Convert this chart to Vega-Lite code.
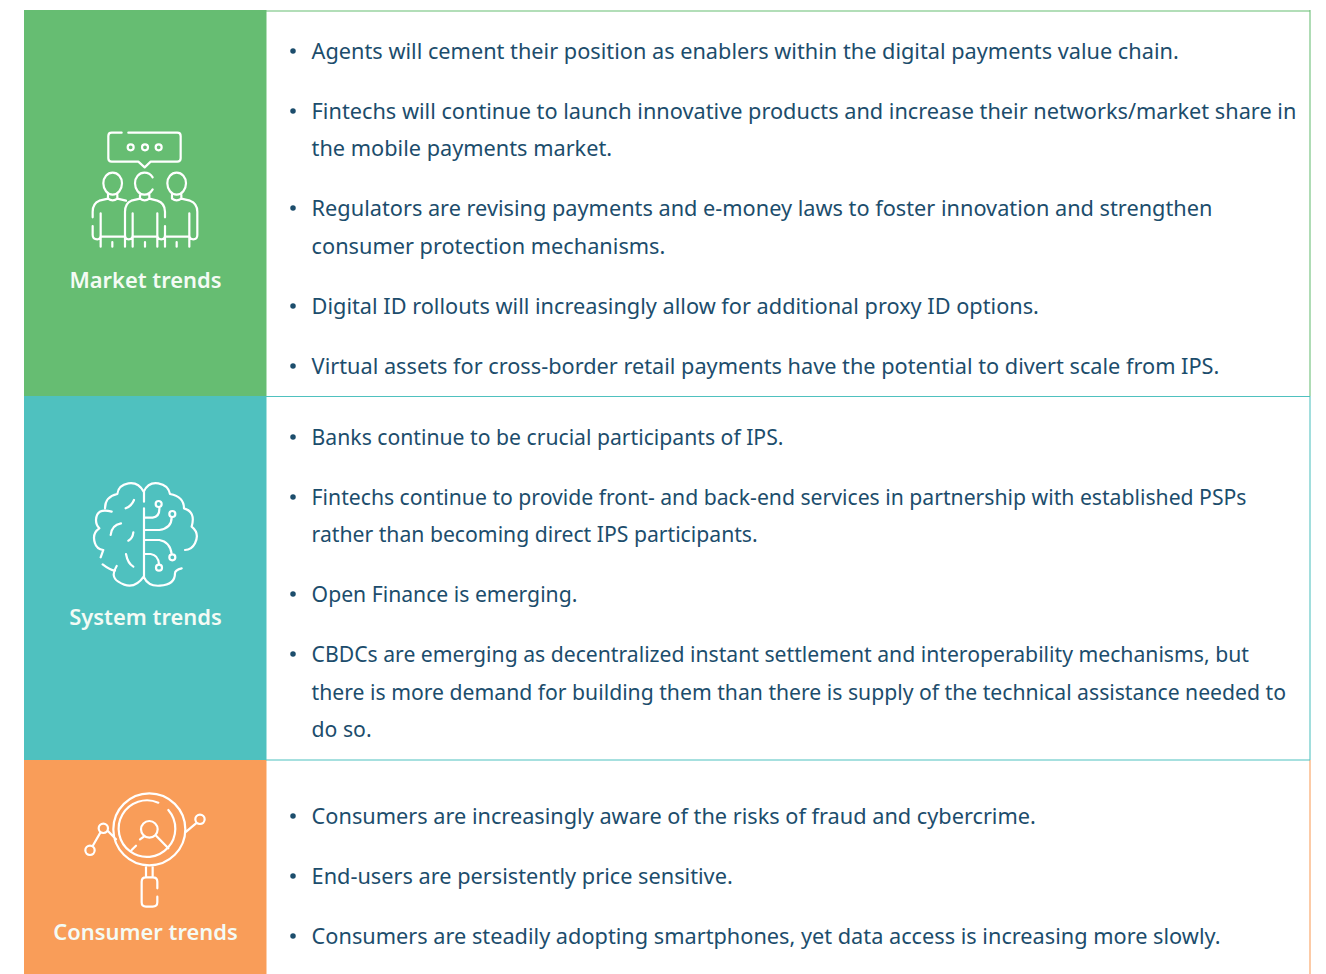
{"$schema":"https://vega.github.io/schema/vega-lite/v6.json","width":1326,"height":974,"autosize":{"type":"none"},"padding":0,"background":"#ffffff","config":{"view":{"stroke":null}},
"datasets":{
"bands":[{"band":"Market trends","top":10,"bottom":396,"labelY":287.5},{"band":"System trends","top":396,"bottom":760,"labelY":625},{"band":"Consumer trends","top":760,"bottom":974,"labelY":939.5}],
"edges":[{"band":"Market trends","y":11},{"band":"System trends","y":396.5},{"band":"System trends","y":760}],
"icons":[{"band":"Market trends","ox":60,"oy":120},{"band":"System trends","ox":60,"oy":470},{"band":"Consumer trends","ox":40,"oy":780}],
"lines":[
{"band":"Market trends","y":59,"bullet":true,"line":"Agents will cement their position as enablers within the digital payments value chain."},
{"band":"Market trends","y":119,"bullet":true,"line":"Fintechs will continue to launch innovative products and increase their networks/market share in"},
{"band":"Market trends","y":156,"bullet":false,"line":"the mobile payments market."},
{"band":"Market trends","y":216,"bullet":true,"line":"Regulators are revising payments and e-money laws to foster innovation and strengthen"},
{"band":"Market trends","y":254,"bullet":false,"line":"consumer protection mechanisms."},
{"band":"Market trends","y":314,"bullet":true,"line":"Digital ID rollouts will increasingly allow for additional proxy ID options."},
{"band":"Market trends","y":374,"bullet":true,"line":"Virtual assets for cross-border retail payments have the potential to divert scale from IPS."},
{"band":"System trends","y":445,"bullet":true,"line":"Banks continue to be crucial participants of IPS."},
{"band":"System trends","y":505,"bullet":true,"line":"Fintechs continue to provide front- and back-end services in partnership with established PSPs"},
{"band":"System trends","y":542,"bullet":false,"line":"rather than becoming direct IPS participants."},
{"band":"System trends","y":602,"bullet":true,"line":"Open Finance is emerging."},
{"band":"System trends","y":662,"bullet":true,"line":"CBDCs are emerging as decentralized instant settlement and interoperability mechanisms, but"},
{"band":"System trends","y":700,"bullet":false,"line":"there is more demand for building them than there is supply of the technical assistance needed to"},
{"band":"System trends","y":737,"bullet":false,"line":"do so."},
{"band":"Consumer trends","y":824,"bullet":true,"line":"Consumers are increasingly aware of the risks of fraud and cybercrime."},
{"band":"Consumer trends","y":884,"bullet":true,"line":"End-users are persistently price sensitive."},
{"band":"Consumer trends","y":944,"bullet":true,"line":"Consumers are steadily adopting smartphones, yet data access is increasing more slowly."}
]},
"layer":[
{"data":{"name":"bands"},"mark":{"type":"rect"},"encoding":{"x":{"datum":24,"type":"quantitative","scale":{"domain":[0,1326],"nice":false,"zero":false},"axis":null},"x2":{"datum":266.5},"y":{"field":"top","type":"quantitative","scale":{"domain":[974,0],"nice":false,"zero":false},"axis":null},"y2":{"field":"bottom"},"color":{"field":"band","type":"nominal","legend":null,"scale":{"domain":["Market trends","System trends","Consumer trends"],"range":["#66bd72","#4fc1bf","#f99d59"]}}}},
{"data":{"name":"bands"},"mark":{"type":"rule","strokeWidth":1.5,"opacity":0.7},"encoding":{"x":{"datum":1310,"type":"quantitative"},"y":{"field":"top","type":"quantitative"},"y2":{"field":"bottom"},"color":{"field":"band","type":"nominal"}}},
{"data":{"name":"edges"},"mark":{"type":"rule","strokeWidth":1.2},"encoding":{"x":{"datum":266,"type":"quantitative"},"x2":{"datum":1310},"y":{"field":"y","type":"quantitative"},"color":{"field":"band","type":"nominal"}}},
{"data":{"name":"bands"},"mark":{"type":"text","font":"Noto Sans","fontSize":21.9,"fontWeight":600,"align":"center","baseline":"alphabetic","color":"#f4fbf5"},"encoding":{"x":{"datum":145.5,"type":"quantitative"},"y":{"field":"labelY","type":"quantitative"},"text":{"field":"band"}}},
{"data":{"name":"lines"},"transform":[{"filter":"datum.band!=='System trends'"}],"mark":{"type":"text","font":"Noto Sans","fontSize":21.72,"align":"left","baseline":"alphabetic","color":"#1c4d6c"},"encoding":{"x":{"datum":311.6,"type":"quantitative"},"y":{"field":"y","type":"quantitative"},"text":{"field":"line"}}},
{"data":{"name":"lines"},"transform":[{"filter":"datum.band==='System trends'"}],"mark":{"type":"text","font":"Noto Sans","fontSize":21.18,"align":"left","baseline":"alphabetic","color":"#1c4d6c"},"encoding":{"x":{"datum":311.6,"type":"quantitative"},"y":{"field":"y","type":"quantitative"},"text":{"field":"line"}}},
{"data":{"name":"lines"},"transform":[{"filter":"datum.bullet"}],"mark":{"type":"point","shape":"circle","filled":true,"size":30,"color":"#1c4d6c","opacity":1},"encoding":{"x":{"datum":293,"type":"quantitative"},"y":{"field":"y","type":"quantitative"},"yOffset":{"value":-8}}},
{"data":{"name":"icons"},"transform":[{"filter":"datum.band==='Market trends'"}],"mark":{"type":"point","size":0.4444,"filled":false,"opacity":1,"stroke":"#ffffff","strokeWidth":2.2,"strokeCap":"round","strokeJoin":"round",
"shape":"M185,38 H155 Q145,38 145,48 V115 Q145,125 155,125 H235 L254,142 L272,125 H352 Q362,125 362,115 V48 Q362,38 352,38 H205 M203,82 A9,9 0 1 0 221,82 A9,9 0 1 0 203,82 M246,82 A9,9 0 1 0 264,82 A9,9 0 1 0 246,82 M287,82 A9,9 0 1 0 305,82 A9,9 0 1 0 287,82 M158,158 C142,158 130,172 130,190 C130,208 142,224 158,224 C174,224 186,208 186,190 C186,172 174,158 158,158 M278,172 C272,162 263,158 253,158 C237,158 225,172 225,190 C225,208 237,224 253,224 C263,224 272,218 278,208 M350,158 C334,158 322,172 322,190 C322,208 334,224 350,224 C366,224 378,208 378,190 C378,172 366,158 350,158 M144,224 V236 Q158,246 172,236 V224 M240,224 V236 Q254,246 268,236 V224 M336,224 V236 Q350,246 364,236 V224 M144,236 L118,242 Q98,250 98,275 V292 M98,318 V345 Q98,358 112,358 Q122,358 122,345 V280 M122,345 V380 M172,236 L198,242 M240,236 L214,242 Q195,250 195,275 V345 Q195,358 206,358 Q218,358 218,345 V280 M195,345 V380 M218,345 V380 M268,236 L292,242 Q315,250 315,275 V292 M315,318 V345 Q315,358 304,358 Q292,358 292,345 V280 M292,345 V380 M315,345 V380 M364,236 L390,242 Q412,250 412,275 V345 Q412,358 400,358 Q388,358 388,345 V280 M388,345 V380 M122,350 H195 M218,350 H292 M315,350 H388 M157,366 V380 M255,366 V380 M350,366 V380"},
"encoding":{"x":{"field":"ox","type":"quantitative"},"y":{"field":"oy","type":"quantitative"}}},
{"data":{"name":"icons"},"transform":[{"filter":"datum.band==='System trends'"}],"mark":{"type":"point","size":0.4444,"filled":false,"opacity":1,"stroke":"#ffffff","strokeWidth":2.2,"strokeCap":"round","strokeJoin":"round",
"shape":"M251,65 Q235,35 205,40 Q175,45 172,72 M172,72 Q135,80 135,115 M155,125 Q110,112 108,150 Q108,165 118,175 Q95,190 105,220 Q110,238 130,240 L122,262 M128,283 Q150,300 165,302 M170,288 Q150,320 175,335 Q220,365 251,320 M251,65 Q265,35 295,40 Q325,45 330,72 Q372,80 372,115 Q408,125 395,170 Q420,190 405,220 Q395,240 375,240 M365,295 Q345,300 345,310 Q345,345 300,347 Q265,350 251,320 M252,65 V95 M252,115 V320 M252,143 H278 Q300,140 298,112 M287,102 A9,9 0 1 0 305,102 A9,9 0 1 0 287,102 M252,180 H298 Q335,175 335,142 M328,132 A9,9 0 1 0 346,132 A9,9 0 1 0 328,132 M252,210 H298 Q330,215 335,252 M328,262 A9,9 0 1 0 346,262 A9,9 0 1 0 328,262 M252,252 H272 Q295,255 297,283 M288,293 A9,9 0 1 0 306,293 A9,9 0 1 0 288,293 M197,115 Q215,108 222,90 M183,160 Q155,165 152,195 M205,212 Q218,205 220,187 M198,252 Q203,280 220,290"},
"encoding":{"x":{"field":"ox","type":"quantitative"},"y":{"field":"oy","type":"quantitative"}}},
{"data":{"name":"icons"},"transform":[{"filter":"datum.band==='Consumer trends'"}],"mark":{"type":"point","size":0.4444,"filled":false,"opacity":1,"stroke":"#ffffff","strokeWidth":2.2,"strokeCap":"round","strokeJoin":"round",
"shape":"M220,148 A108,108 0 1 0 436,148 A108,108 0 1 0 220,148 M385,90 A85,85 0 1 1 355,68 M303,148 A25,25 0 1 0 353,148 A25,25 0 1 0 303,148 M300,178 L314,168 M349,168 L385,205 M275,210 L288,197 M318,255 V292 M338,255 V292 M352,325 V305 Q352,292 338,292 H318 Q305,292 305,305 V367 Q305,380 318,380 H338 Q352,380 352,367 V350 M136,211 A14,14 0 1 0 164,211 A14,14 0 1 0 136,211 M176,145 A14,14 0 1 0 204,145 A14,14 0 1 0 176,145 M466,118 A14,14 0 1 0 494,118 A14,14 0 1 0 466,118 M158,198 L181,158 M203,152 L228,178 M468,130 L435,158"},
"encoding":{"x":{"field":"ox","type":"quantitative"},"y":{"field":"oy","type":"quantitative"}}}
]}
